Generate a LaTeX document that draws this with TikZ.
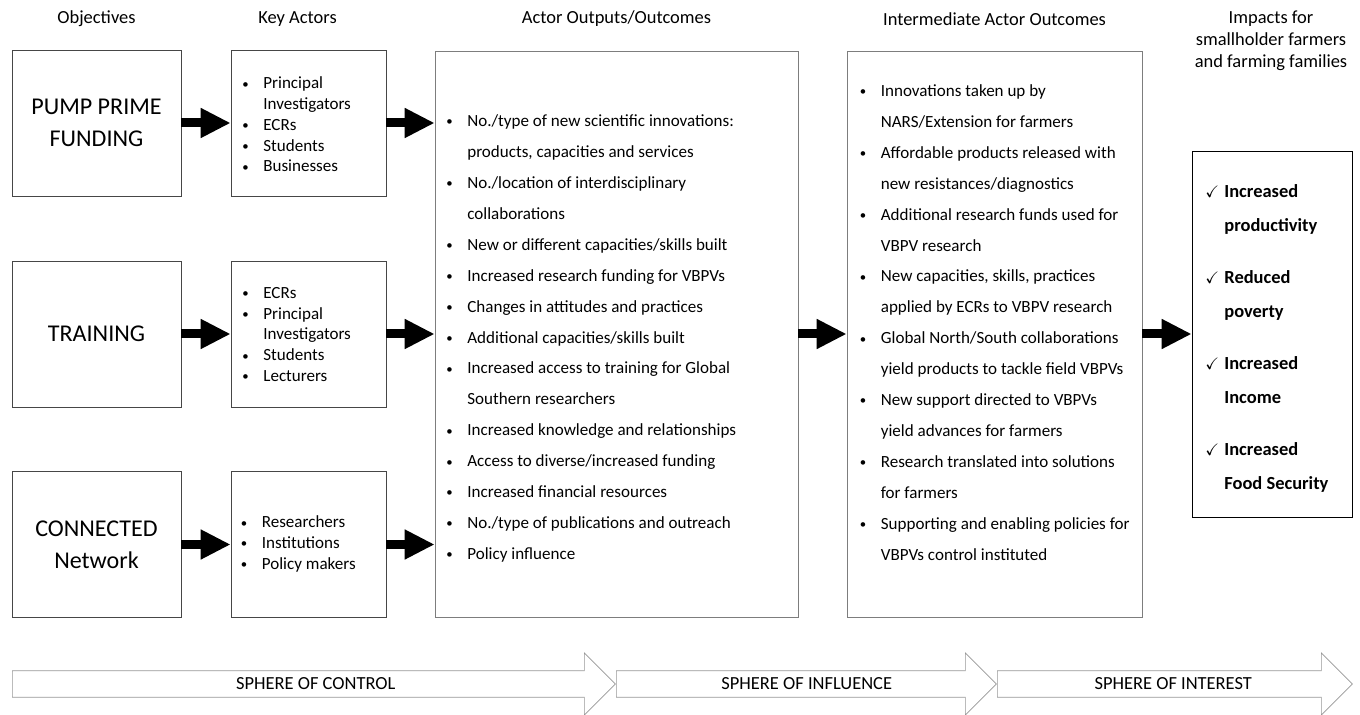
\documentclass[tikz,border=0pt]{standalone}
\usepackage{amssymb}
\usepackage{fontspec}
\setmainfont{Carlito}
\usepackage{tikz}
\usetikzlibrary{arrows.meta, shapes.arrows}
\definecolor{framedark}{RGB}{70, 70, 70}
\definecolor{framelight}{RGB}{125, 125, 125}
\definecolor{spheregray}{RGB}{150, 150, 150}

\newcommand{\bitem}[1]{\makebox[0.42cm][l]{\raisebox{0.4pt}{\scalebox{0.75}{\textbullet}}}#1}
\newcommand{\bnext}[1]{\hspace*{0.42cm}#1}
\newcommand{\citem}[1]{\makebox[0.38cm][l]{\scalebox{0.9}{$\checkmark$}}\textbf{#1}}
\newcommand{\cnext}[1]{\hspace*{0.38cm}\textbf{#1}}

\begin{document}
\begin{tikzpicture}[
  head/.style={align=center, inner sep=0pt, font=\fontsize{10.5}{12.5}\selectfont},
  objbox/.style={draw=framedark, minimum width=3.38cm, minimum height=2.92cm, align=center, font=\fontsize{13.7}{18}\selectfont},
  actbox/.style={draw=framedark, minimum width=3.10cm, minimum height=2.92cm},
  bigbox/.style={draw=framelight, minimum height=11.32cm},
  shortlist/.style={anchor=west, align=left, inner sep=0pt, font=\fontsize{9.7}{11.8}\selectfont},
  longlist/.style={anchor=west, align=left, inner sep=0pt, font=\fontsize{9.7}{17.6}\selectfont},
  fat/.style={line width=0.18cm, -{Triangle[length=0.6cm, width=0.56cm]}},
  sphere/.style={single arrow, anchor=tail, draw=spheregray, single arrow head extend=0.22cm, minimum width=1.24cm, inner sep=1pt, font=\fontsize{10.5}{12}\selectfont}
]
\useasboundingbox (0,0) rectangle (27.2,-14.3);

% Column headers
\node[head] (hobj) at (1.93,-0.38) {Objectives};
\node[head] (hact) at (5.95,-0.38) {Key Actors};
\node[head] (hout) at (12.33,-0.38) {Actor Outputs/Outcomes};
\node[head] (hint) at (19.89,-0.38) {Intermediate Actor Outcomes};
\node[head] (himp) at (25.42,-0.82) {Impacts for\\smallholder farmers\\and farming families};

% Objectives
\node[objbox] (obj1) at (1.93,-2.46) {PUMP PRIME\\FUNDING};
\node[objbox] (obj2) at (1.93,-6.68) {TRAINING};
\node[objbox] (obj3) at (1.93,-10.89) {CONNECTED\\Network};

% Key actors
\node[actbox] (act1) at (6.17,-2.46) {};
\node[actbox] (act2) at (6.17,-6.68) {};
\node[actbox] (act3) at (6.17,-10.89) {};
\node[shortlist] (list1) at (4.84,-2.49) {\bitem{Principal}\\\bnext{Investigators}\\\bitem{ECRs}\\\bitem{Students}\\\bitem{Businesses}};
\node[shortlist] (list2) at (4.84,-6.69) {\bitem{ECRs}\\\bitem{Principal}\\\bnext{Investigators}\\\bitem{Students}\\\bitem{Lecturers}};
\node[shortlist] (list3) at (4.81,-10.88) {\bitem{Researchers}\\\bitem{Institutions}\\\bitem{Policy makers}};

% Outputs and outcomes
\node[bigbox, minimum width=7.26cm] (outp) at (12.33,-6.68) {};
\node[bigbox, minimum width=5.90cm] (inter) at (19.89,-6.68) {};
\node[draw=black, minimum width=3.20cm, minimum height=7.32cm] (imp) at (25.44,-6.68) {};

\node[longlist] (outlist) at (8.92,-6.77) {\bitem{No./type of new scientific innovations:}\\
  \bnext{products, capacities and services}\\
  \bitem{No./location of interdisciplinary}\\
  \bnext{collaborations}\\
  \bitem{New or different capacities/skills built}\\
  \bitem{Increased research funding for VBPVs}\\
  \bitem{Changes in attitudes and practices}\\
  \bitem{Additional capacities/skills built}\\
  \bitem{Increased access to training for Global}\\
  \bnext{Southern researchers}\\
  \bitem{Increased knowledge and relationships}\\
  \bitem{Access to diverse/increased funding}\\
  \bitem{Increased financial resources}\\
  \bitem{No./type of publications and outreach}\\
  \bitem{Policy influence}};

\node[longlist] (interlist) at (17.19,-6.45) {\bitem{Innovations taken up by}\\
  \bnext{NARS/Extension for farmers}\\
  \bitem{Affordable products released with}\\
  \bnext{new resistances/diagnostics}\\
  \bitem{Additional research funds used for}\\
  \bnext{VBPV research}\\
  \bitem{New capacities, skills, practices}\\
  \bnext{applied by ECRs to VBPV research}\\
  \bitem{Global North/South collaborations}\\
  \bnext{yield products to tackle field VBPVs}\\
  \bitem{New support directed to VBPVs}\\
  \bnext{yield advances for farmers}\\
  \bitem{Research translated into solutions}\\
  \bnext{for farmers}\\
  \bitem{Supporting and enabling policies for}\\
  \bnext{VBPVs control instituted}};

\node[anchor=west, align=left, inner sep=0pt, font=\fontsize{10.5}{19.3}\selectfont] (implist) at (24.10,-6.77) {\citem{Increased}\\\cnext{productivity}\\[10.2pt]
  \citem{Reduced}\\\cnext{poverty}\\[10.2pt]
  \citem{Increased}\\\cnext{Income}\\[10.2pt]
  \citem{Increased}\\\cnext{Food Security}};

% Flow arrows
\draw[fat] (obj1) -- (act1);
\draw[fat] (obj2) -- (act2);
\draw[fat] (obj3) -- (act3);
\draw[fat] (act1) -- (act1 -| outp.west);
\draw[fat] (act2) -- (act2 -| outp.west);
\draw[fat] (act3) -- (act3 -| outp.west);
\draw[fat] (outp) -- (inter);
\draw[fat] (inter) -- (imp);

% Spheres
\node[sphere, minimum height=12.06cm] (sph1) at (0.24,-13.68) {\hspace*{0.34cm}SPHERE OF CONTROL};
\node[sphere, minimum height=7.60cm] (sph2) at (12.32,-13.68) {\hspace*{0.28cm}SPHERE OF INFLUENCE};
\node[sphere, minimum height=7.10cm] (sph3) at (19.94,-13.68) {\hspace*{0.2cm}SPHERE OF INTEREST};

\end{tikzpicture}
\end{document}
